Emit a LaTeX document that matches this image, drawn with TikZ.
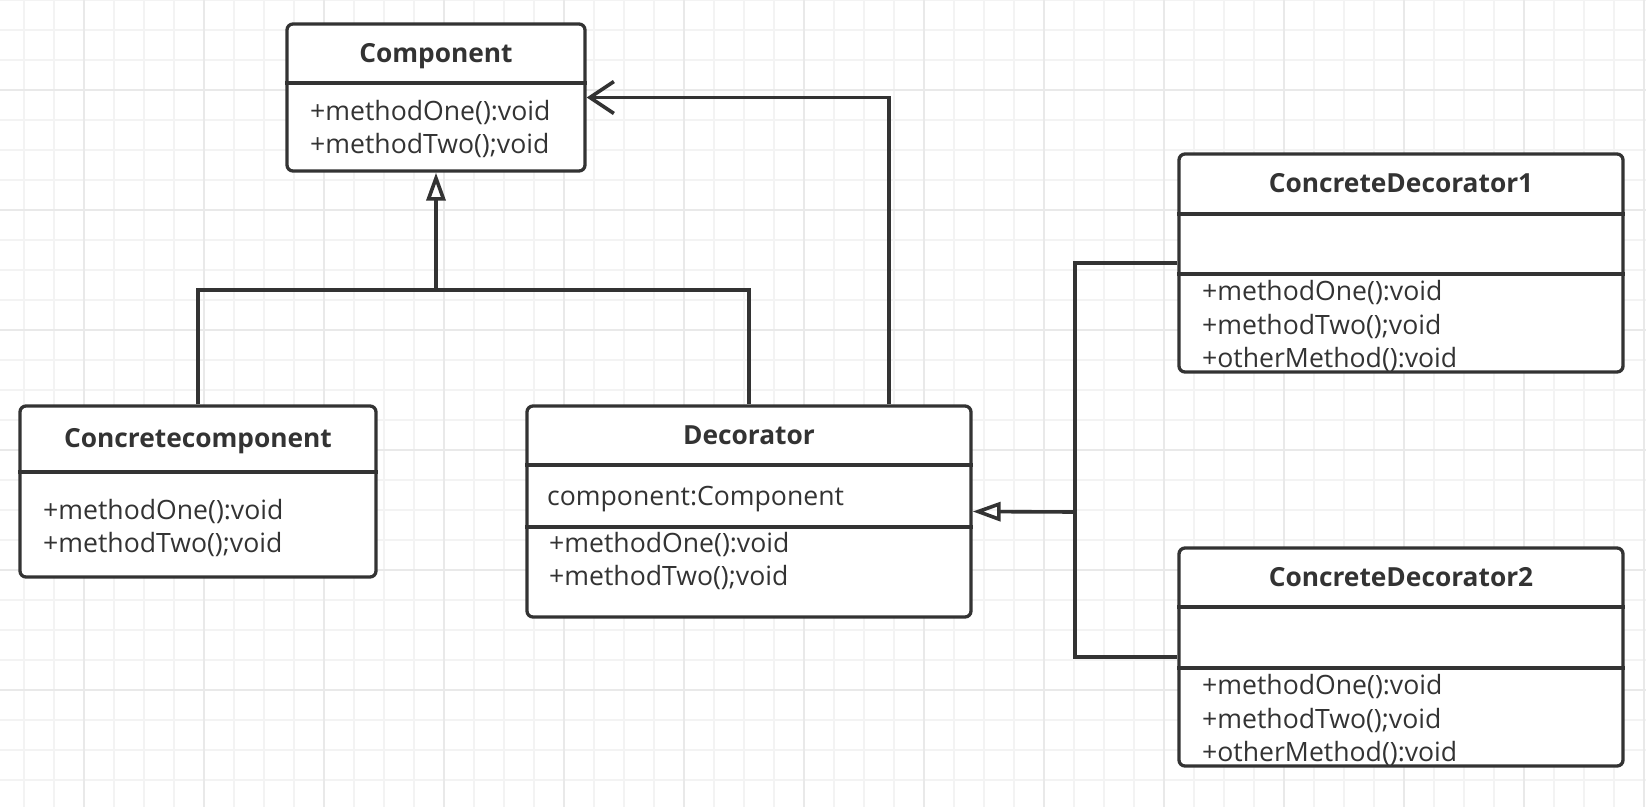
\documentclass[tikz,border=0pt]{standalone}
\usepackage{fontspec}
\setmainfont{Open Sans}
\usetikzlibrary{arrows.meta}

\definecolor{ink}{RGB}{51,51,51}
\definecolor{gridminor}{RGB}{243,243,243}
\definecolor{gridmajor}{RGB}{233,233,233}

\begin{document}
\begin{tikzpicture}
        [x=1pt,y=-1pt,
          classbox/.style={draw=ink,line width=3.3pt,rounded corners=6pt,fill=white,
            inner sep=0pt},%
          classtitle/.style={text=ink,inner sep=0pt,text depth=0pt,
            font=\fontsize{26.3}{30}\selectfont\bfseries},%
          members/.style={text=ink,inner sep=0pt,align=left,anchor=west,
            font=\fontsize{26.6}{33.2}\selectfont},%
          divider/.style={draw=ink,line width=3.3pt},%
          linkdecorate/.style={draw=ink,line width=3.6pt}]
        \useasboundingbox (0,0) rectangle (1646,807);
        \fill[white] (0,0) rectangle (1646,807);
        %% background grid
        \foreach \gx in {24,54,...,1644}
          \draw[gridminor,line width=1.8pt] (\gx,0) -- (\gx,807);
        \foreach \gy in {0,30,...,800}
          \draw[gridminor,line width=1.8pt] (0,\gy) -- (1646,\gy);
        \foreach \gx in {84,204,...,1644}
          \draw[gridmajor,line width=1.8pt] (\gx,0) -- (\gx,807);
        \foreach \gy in {90,210,...,800}
          \draw[gridmajor,line width=1.8pt] (0,\gy) -- (1646,\gy);
        %% classes
        \node (comp) at (436,97.5) [classbox,minimum width=298pt,minimum height=147pt] {};
        \node (ccomp) at (198,491.5) [classbox,minimum width=356pt,minimum height=171pt] {};
        \node (dec) at (749,511.5) [classbox,minimum width=444pt,minimum height=211pt] {};
        \node (cdeco1) at (1401,263) [classbox,minimum width=444pt,minimum height=218pt] {};
        \node (cdeco2) at (1401,657) [classbox,minimum width=444pt,minimum height=218pt] {};
        %% titles
        \node (comptitle) at (436,53) [classtitle] {Component};
        \node (ccomptitle) at (198,438) [classtitle] {Concretecomponent};
        \node (dectitle) at (749,435) [classtitle] {Decorator};
        \node (cdeco1title) at (1401,183) [classtitle] {ConcreteDecorator1};
        \node (cdeco2title) at (1401,577) [classtitle] {ConcreteDecorator2};
        %% compartment lines
        \foreach \cls/\y in {comp/83, ccomp/472, dec/465, dec/527, cdeco1/214,
          cdeco1/274, cdeco2/607, cdeco2/668}
        {
          \draw[divider] (\cls.west |- 0,\y) -- (\cls.east |- 0,\y);
        }
        %% members
        \node (compops) at (310,129) [members] {+methodOne():void\\+methodTwo();void};
        \node (ccompops) at (43,528) [members] {+methodOne():void\\+methodTwo();void};
        \node (decattr) at (547,499) [members] {component:Component};
        \node (decops) at (549,561) [members] {+methodOne():void\\+methodTwo();void};
        \node (cdeco1ops) at (1202,326) [members]
          {+methodOne():void\\+methodTwo();void\\+otherMethod():void};
        \node (cdeco2ops) at (1202,720) [members]
          {+methodOne():void\\+methodTwo();void\\+otherMethod():void};
        %% connectors
        \coordinate (join) at (436,290);
        \coordinate (split) at (1075,512);
        \draw[linkdecorate] (ccomp.north) |- (join) -| (dec.north);
        \draw[linkdecorate,-{Triangle[open,length=28pt,width=19pt]}] (join) -- (comp.south);
        \draw[linkdecorate,-{Straight Barb[length=24pt,width=32pt]}]
          ([xshift=140pt]dec.north) |- (comp.east);
        \draw[linkdecorate] (cdeco1.west) -| (split) |- (cdeco2.west);
        \draw[linkdecorate,-{Triangle[open,length=28pt,width=19pt]}] (split) -- (dec.east);
        \end{tikzpicture}
\end{document}
